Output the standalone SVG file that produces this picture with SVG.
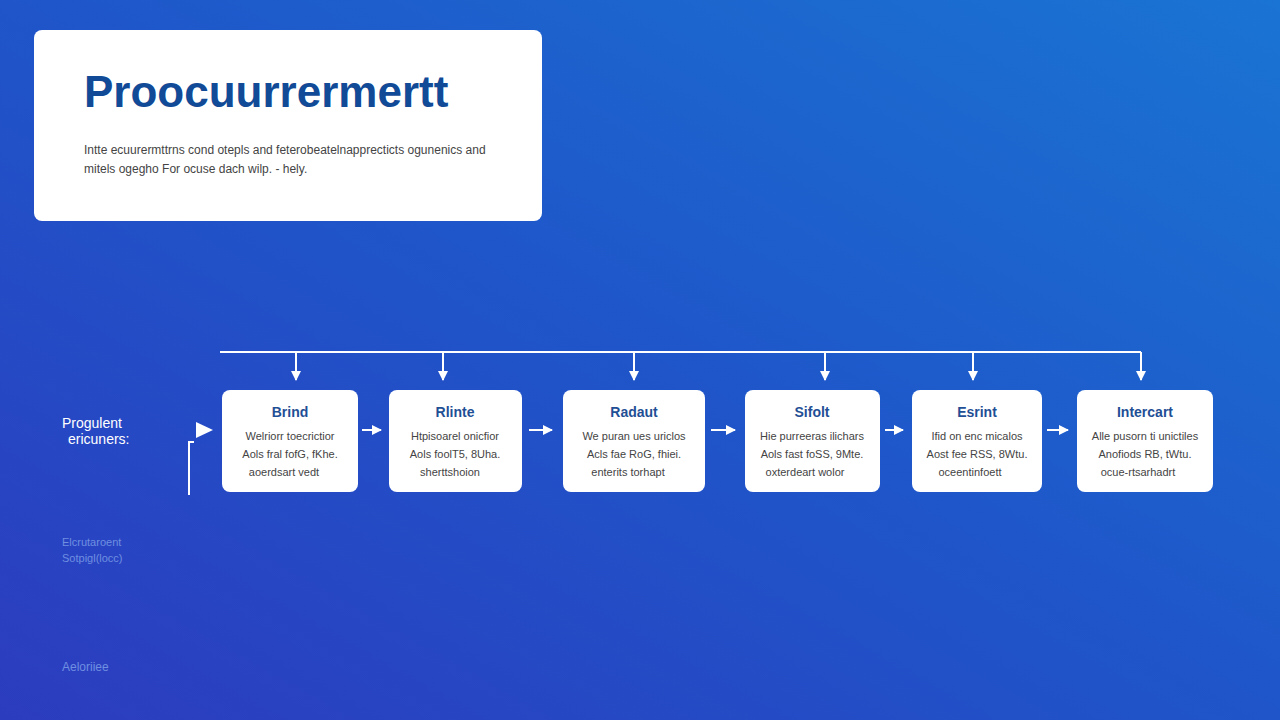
<svg xmlns="http://www.w3.org/2000/svg" width="1280" height="720" viewBox="0 0 1280 720">
<defs>
<linearGradient id="bg" x1="0" y1="1" x2="1" y2="0">
<stop offset="0" stop-color="#2c3cbf"/>
<stop offset="0.5" stop-color="#1f55c9"/>
<stop offset="1" stop-color="#1a74d3"/>
</linearGradient>
<marker id="ah" viewBox="0 0 10 10" refX="9" refY="5" markerWidth="10" markerHeight="10" markerUnits="userSpaceOnUse" orient="auto"><path d="M0,0L10,5L0,10z" fill="#fff"/></marker>
<style>
.n{fill:#fff;rx:8}
.t{font-family:"Liberation Sans",Arial,sans-serif;font-size:14px;font-weight:bold;fill:#1f4f95;text-anchor:middle}
.b{font-family:"Liberation Sans",Arial,sans-serif;font-size:11px;fill:#444;text-anchor:middle}
.c{stroke:#fff;stroke-width:2;fill:none}
</style>
</defs>
<rect width="1280" height="720" fill="url(#bg)"/>
<g id="header">
<rect x="34" y="30" width="508" height="191" rx="8" fill="#fff"/>
<text x="84" y="107" font-family="Liberation Sans,Arial,sans-serif" font-size="44" font-weight="bold" fill="#114a96">Proocuurrermertt</text>
<text x="84" y="154" font-family="Liberation Sans,Arial,sans-serif" font-size="12" fill="#444">Intte ecuurermttrns cond otepls and feterobeatelnapprecticts ogunenics and</text>
<text x="84" y="173" font-family="Liberation Sans,Arial,sans-serif" font-size="12" fill="#444">mitels ogegho For ocuse dach wilp.  - hely.</text>
</g>
<g id="side-labels" font-family="Liberation Sans,Arial,sans-serif">
<text x="62" y="428" font-size="14" fill="#fff">Progulent</text>
<text x="68" y="444" font-size="14" fill="#fff">ericuners:</text>
<text x="62" y="546" font-size="11" fill="#6f8fe0">Elcrutaroent</text>
<text x="62" y="562" font-size="11" fill="#6f8fe0">Sotpigl(locc)</text>
<text x="62" y="671" font-size="12" fill="#6f8fe0">Aeloriiee</text>
</g>
<g id="connectors">
<path class="c" d="M220,352H1141"/>
<path class="c" d="M296,352V380" marker-end="url(#ah)"/>
<path class="c" d="M443,352V380" marker-end="url(#ah)"/>
<path class="c" d="M634,352V380" marker-end="url(#ah)"/>
<path class="c" d="M825,352V380" marker-end="url(#ah)"/>
<path class="c" d="M973,352V380" marker-end="url(#ah)"/>
<path class="c" d="M1141,352V380" marker-end="url(#ah)"/>
<path class="c" d="M362,430H381" marker-end="url(#ah)"/>
<path class="c" d="M529,430H552" marker-end="url(#ah)"/>
<path class="c" d="M711,430H735" marker-end="url(#ah)"/>
<path class="c" d="M885,430H903" marker-end="url(#ah)"/>
<path class="c" d="M1047,430H1068" marker-end="url(#ah)"/>
<path d="M196,422L213,430L196,438z" fill="#fff"/>
<path class="c" d="M189,495V442H194"/>
</g>
<g id="n1"><rect class="n" x="222" y="390" width="136" height="102"/><text class="t" x="290" y="417">Brind</text><text class="b" x="290" y="440">Welriorr toecrictior</text><text class="b" x="290" y="458">Aols fral fofG, fKhe.</text><text class="b" x="284" y="476">aoerdsart vedt</text></g>
<g id="n2"><rect class="n" x="389" y="390" width="133" height="102"/><text class="t" x="455" y="417">Rlinte</text><text class="b" x="455" y="440">Htpisoarel onicfior</text><text class="b" x="455" y="458">Aols foolT5, 8Uha.</text><text class="b" x="450" y="476">sherttshoion</text></g>
<g id="n3"><rect class="n" x="563" y="390" width="142" height="102"/><text class="t" x="634" y="417">Radaut</text><text class="b" x="634" y="440">We puran ues uriclos</text><text class="b" x="634" y="458">Acls fae RoG, fhiei.</text><text class="b" x="628" y="476">enterits torhapt</text></g>
<g id="n4"><rect class="n" x="745" y="390" width="135" height="102"/><text class="t" x="812" y="417">Sifolt</text><text class="b" x="812" y="440">Hie purreeras ilichars</text><text class="b" x="812" y="458">Aols fast foSS, 9Mte.</text><text class="b" x="805" y="476">oxterdeart wolor</text></g>
<g id="n5"><rect class="n" x="912" y="390" width="130" height="102"/><text class="t" x="977" y="417">Esrint</text><text class="b" x="977" y="440">Ifid on enc micalos</text><text class="b" x="977" y="458">Aost fee RSS, 8Wtu.</text><text class="b" x="970" y="476">oceentinfoett</text></g>
<g id="n6"><rect class="n" x="1077" y="390" width="136" height="102"/><text class="t" x="1145" y="417">Intercart</text><text class="b" x="1145" y="440">Alle pusorn ti unictiles</text><text class="b" x="1145" y="458">Anofiods RB, tWtu.</text><text class="b" x="1138" y="476">ocue-rtsarhadrt</text></g>
</svg>
